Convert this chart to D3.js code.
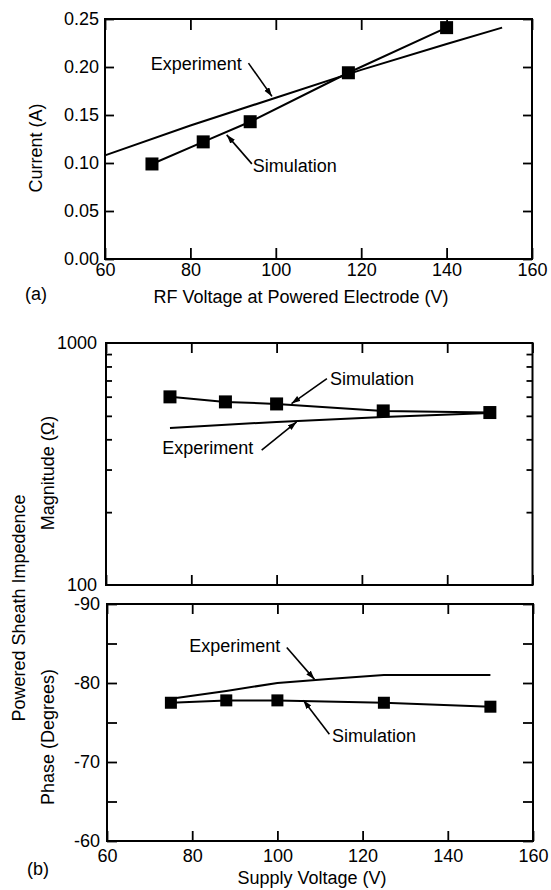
<!DOCTYPE html>
<html>
<head>
<meta charset="utf-8">
<script src="https://cdn.jsdelivr.net/npm/d3@7"></script>
<style>
  body { margin: 0; background: #fff; }
  svg { display: block; }
</style>
</head>
<body>
<div id="chart"></div>
<script>
// (a) current vs RF voltage at the powered electrode
const rfVoltage = [71, 83, 94, 117, 140];
const simCurrent = [0.099, 0.122, 0.143, 0.194, 0.241];
const expRfVoltage = [60, 80, 100, 120, 140, 153];
const expCurrent = [0.108, 0.139, 0.168, 0.197, 0.224, 0.241];
const xTicksA = [60, 80, 100, 120, 140, 160];
const yTicksA = [0, 0.05, 0.10, 0.15, 0.20, 0.25];

// (b) powered sheath impedance vs supply voltage
const supplyVoltage = [75, 88, 100, 125, 150];
const simMagnitude = [599, 571, 560, 524, 516];
const expMagVoltage = [75, 100, 125, 150];
const expMagnitude = [445, 472, 495, 514];
const simPhase = [-77.5, -77.8, -77.8, -77.5, -77.0];
const expPhaseVoltage = [75, 88, 100, 112, 125, 150];
const expPhase = [-78, -79, -80, -80.5, -81, -81];
const xTicksB = [60, 80, 100, 120, 140, 160];
const magMajorTicks = [100, 1000];
const magMinorTicks = [200, 300, 400, 500, 600, 700, 800, 900];
const phaseTicks = [-90, -85, -80, -75, -70, -65, -60];

const width = 551, height = 890;

const svg = d3.select("#chart").append("svg")
    .attr("width", width)
    .attr("height", height)
    .style("font-family", "'Liberation Sans', Arial, Helvetica, sans-serif")
    .style("font-size", "18px");

svg.append("defs").append("marker")
    .attr("id", "arrow")
    .attr("markerUnits", "userSpaceOnUse")
    .attr("markerWidth", 10)
    .attr("markerHeight", 8)
    .attr("refX", 9)
    .attr("refY", 3)
    .attr("orient", "auto")
    .append("path")
    .attr("d", "M0,0 L9,3 L0,6 Z")
    .attr("fill", "#000");

function cleanAxis(g) {
    g.attr("font-family", null).attr("font-size", null);
    g.select(".domain").remove();
    g.selectAll(".tick line").attr("stroke", "#000").attr("stroke-width", 1.8);
    g.selectAll(".tick text").attr("fill", "#000");
}

function drawFrame(p) {
    svg.append("rect")
        .attr("x", p.left).attr("y", p.top)
        .attr("width", p.right - p.left).attr("height", p.bottom - p.top)
        .attr("fill", "none").attr("stroke", "#000").attr("stroke-width", 2);
}

function xAxes(p, x, ticks, size, labelled, pad) {
    svg.append("g")
        .attr("transform", "translate(0," + p.bottom + ")")
        .call(d3.axisBottom(x).tickValues(ticks).tickSize(-size).tickPadding(pad)
            .tickFormat(labelled ? d3.format("d") : ""))
        .call(cleanAxis);
    svg.append("g")
        .attr("transform", "translate(0," + p.top + ")")
        .call(d3.axisTop(x).tickValues(ticks).tickSize(-size).tickFormat(""))
        .call(cleanAxis);
}

function yAxes(p, y, ticks, size, fmt, pad) {
    svg.append("g")
        .attr("transform", "translate(" + p.left + ",0)")
        .call(d3.axisLeft(y).tickValues(ticks).tickSize(-size).tickPadding(pad).tickFormat(fmt))
        .call(cleanAxis);
    svg.append("g")
        .attr("transform", "translate(" + p.right + ",0)")
        .call(d3.axisRight(y).tickValues(ticks).tickSize(-size).tickFormat(""))
        .call(cleanAxis);
}

function drawSeries(x, y, xs, ys, squares, size) {
    const pts = d3.zip(xs, ys);
    svg.append("path")
        .datum(pts)
        .attr("fill", "none")
        .attr("stroke", "#000")
        .attr("stroke-width", 2)
        .attr("d", d3.line().x(d => x(d[0])).y(d => y(d[1])));
    if (squares) {
        svg.append("g").selectAll("rect")
            .data(pts)
            .enter()
            .append("rect")
            .attr("x", d => x(d[0]) - size / 2)
            .attr("y", d => y(d[1]) - size / 2)
            .attr("width", size)
            .attr("height", size)
            .attr("fill", "#000");
    }
}

function annotate(x, y, notes) {
    notes.forEach(n => {
        svg.append("text")
            .attr("x", x(n.at[0])).attr("y", y(n.at[1]))
            .text(n.label);
        svg.append("line")
            .attr("x1", x(n.from[0])).attr("y1", y(n.from[1]))
            .attr("x2", x(n.to[0])).attr("y2", y(n.to[1]))
            .attr("stroke", "#000").attr("stroke-width", 1.6)
            .attr("marker-end", "url(#arrow)");
    });
}

function rotatedLabel(txt, cx, cy) {
    svg.append("text")
        .attr("transform", "translate(" + cx + "," + cy + ") rotate(-90)")
        .attr("text-anchor", "middle")
        .text(txt);
}

// ---------- panel (a) ----------
const pA = { left: 105, right: 532, top: 19, bottom: 259 };
const xA = d3.scaleLinear().domain([60, 160]).range([pA.left, pA.right]);
const yA = d3.scaleLinear().domain([0, 0.25]).range([pA.bottom, pA.top]);

xAxes(pA, xA, xTicksA, 11, true, 4);
yAxes(pA, yA, yTicksA, 9, d3.format(".2f"), 6);
drawFrame(pA);
drawSeries(xA, yA, expRfVoltage, expCurrent, false);
drawSeries(xA, yA, rfVoltage, simCurrent, true, 13);
annotate(xA, yA, [
    { label: "Experiment", at: [70.7, 0.197], from: [93.6, 0.204], to: [99.1, 0.1694] },
    { label: "Simulation", at: [94.6, 0.0908], from: [94.4, 0.0991], to: [88.5, 0.1293] }
]);
rotatedLabel("Current (A)", 42, 148);
svg.append("text").attr("x", 301).attr("y", 303).attr("text-anchor", "middle")
    .text("RF Voltage at Powered Electrode (V)");
svg.append("text").attr("x", 25).attr("y", 300).text("(a)");

// ---------- panel (b) magnitude ----------
const pM = { left: 106, right: 532.5, top: 343, bottom: 585 };
const xM = d3.scaleLinear().domain([60, 160]).range([pM.left, pM.right]);
const yM = d3.scaleLog().domain([100, 1000]).range([pM.bottom, pM.top]);

xAxes(pM, xM, xTicksB, 10, false, 4);
yAxes(pM, yM, magMajorTicks, 0, d3.format("d"), 9);
yAxes(pM, yM, magMinorTicks, 6, "", 9);
drawFrame(pM);
drawSeries(xM, yM, expMagVoltage, expMagnitude, false);
drawSeries(xM, yM, supplyVoltage, simMagnitude, true, 13);
annotate(xM, yM, [
    { label: "Simulation", at: [112.5, 669], from: [111.8, 713], to: [103.5, 562] },
    { label: "Experiment", at: [73.2, 349], from: [96.5, 361], to: [104.7, 472] }
]);
rotatedLabel("Magnitude (\u03A9)", 53.5, 473);

// ---------- panel (b) phase ----------
const pP = { left: 107, right: 533, top: 604, bottom: 841 };
const xP = d3.scaleLinear().domain([60, 160]).range([pP.left, pP.right]);
const yP = d3.scaleLinear().domain([-90, -60]).range([pP.top, pP.bottom]);

xAxes(pP, xP, xTicksB, 10, true, 8);
yAxes(pP, yP, phaseTicks, 10, d => (d % 10 === 0 ? String(d) : ""), 7);
drawFrame(pP);
drawSeries(xP, yP, expPhaseVoltage, expPhase, false);
drawSeries(xP, yP, supplyVoltage, simPhase, true, 12);
annotate(xP, yP, [
    { label: "Experiment", at: [79.3, -83.95], from: [102.2, -84.5], to: [108.7, -80.46] },
    { label: "Simulation", at: [112.8, -72.55], from: [112.2, -73.52], to: [106.1, -77.83] }
]);
rotatedLabel("Phase (Degrees)", 53.5, 737);
rotatedLabel("Powered Sheath Impedence", 25, 608);
svg.append("text").attr("x", 312).attr("y", 884).attr("text-anchor", "middle")
    .text("Supply Voltage (V)");
svg.append("text").attr("x", 27).attr("y", 875).text("(b)");
</script>
</body>
</html>
